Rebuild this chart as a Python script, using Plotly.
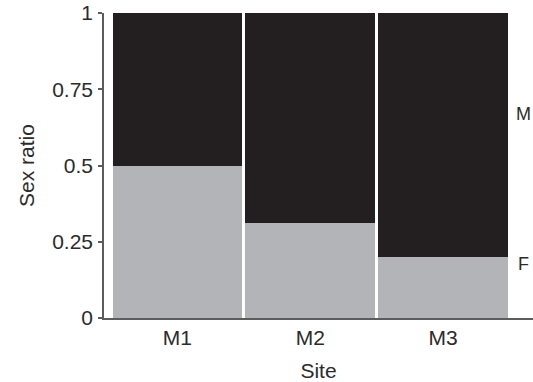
import plotly.graph_objects as go

# Sex ratio by site (proportion of females / males)
sites = ["M1", "M2", "M3"]
site_pos = [1, 2, 3]
female = [0.50, 0.31, 0.20]
male = [0.50, 0.69, 0.80]

y_ticks = [0, 0.25, 0.5, 0.75, 1]
y_ticktext = ["0", "0.25", "0.5", "0.75", "1"]

FONT = "Liberation Sans, Arial, Helvetica, sans-serif"
TEXT_COLOR = "#2b2b2b"
AXIS_COLOR = "#5c5c5e"
tick_font = dict(family=FONT, size=21, color=TEXT_COLOR)
title_font = dict(family=FONT, size=21, color=TEXT_COLOR)

fig = go.Figure()
fig.add_trace(go.Bar(x=site_pos, y=female, width=0.977, name="F",
                     marker=dict(color="#b3b4b8", line=dict(width=0))))
fig.add_trace(go.Bar(x=site_pos, y=male, width=0.977, name="M",
                     marker=dict(color="#231f20", line=dict(width=0))))

fig.update_layout(
    barmode="stack",
    width=533, height=382,
    margin=dict(l=104, r=0, t=13, b=64),
    plot_bgcolor="white", paper_bgcolor="white",
    showlegend=False,
    font=dict(family=FONT, size=21, color=TEXT_COLOR),
)

fig.update_xaxes(
    range=[0.447, 3.677],
    tickvals=site_pos, ticktext=sites, tickfont=tick_font,
    showline=True, linecolor=AXIS_COLOR, linewidth=1.5,
    ticks="", showgrid=False, zeroline=False,
    title=dict(text="Site", font=title_font, standoff=16),
)
fig.update_yaxes(
    range=[0, 1],
    tickvals=y_ticks, ticktext=y_ticktext, tickfont=tick_font,
    showline=True, linecolor=AXIS_COLOR, linewidth=1.5,
    ticks="outside", ticklen=4, tickcolor=AXIS_COLOR, tickwidth=1.5,
    ticklabelstandoff=1,
    showgrid=False, zeroline=False,
    title=dict(text="Sex ratio", font=title_font, standoff=12),
)

# Segment labels at the right edge
for text, yv in [("M", 0.67), ("F", 0.177)]:
    fig.add_annotation(x=0.979, xref="paper", y=yv, yref="y", text=text,
                       showarrow=False, xanchor="center", yanchor="middle",
                       font=dict(size=18, family=FONT, color=TEXT_COLOR))

fig.write_html("out.html")
